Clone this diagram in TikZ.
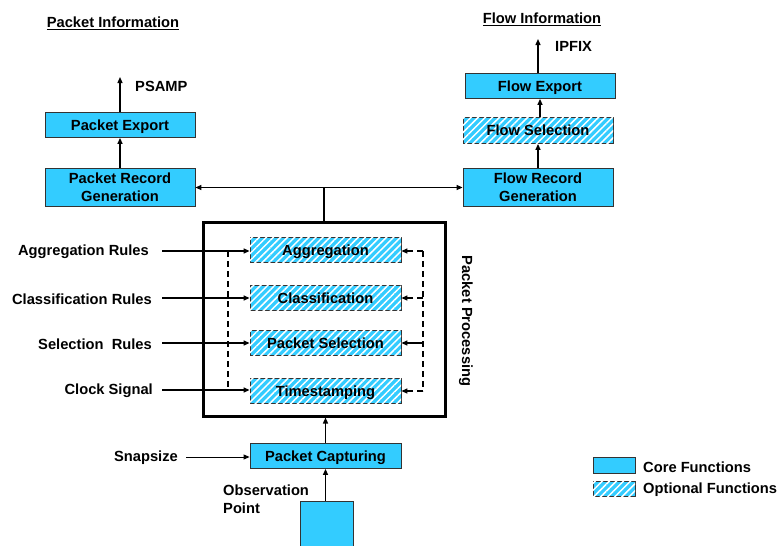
\documentclass[tikz,border=0pt]{standalone}
\usepackage{fontspec}
\setmainfont{Liberation Sans}
\usetikzlibrary{arrows.meta,patterns.meta}
\definecolor{corecyan}{HTML}{33CCFF}

\begin{document}
\begin{tikzpicture}[
    x=1pt, y=-1pt,
    every node/.style={font=\bfseries\fontsize{14.7}{18}\selectfont, inner sep=0pt},
	core/.style={
	  rectangle,
	  draw=black!80,
	  line width=0.8pt,
	  fill=corecyan,
	  minimum width=150pt,
	  minimum height=25pt,
	  text depth=0pt,
	  align=center
	},
	optional/.style={
	  core,
	  postaction={pattern={Lines[angle=45,distance=5pt,line width=1.5pt]}, pattern color=white}
	},
	label/.style={anchor=east},
 	line/.style={draw, line width=1.3pt, -{Triangle[length=6pt,width=5pt]}},
 	dline/.style={line, dashed, dash pattern=on 6pt off 4pt}
	]
	\useasboundingbox (0,0) rectangle (780,546);
	% headings
	\node at (113,23) (pinfo) {\underline{Packet Information}};
	\node at (542,19) (finfo) {\underline{Flow Information}};
	% packet side
	\node [core] at (120,125) (pexp) {Packet Export};
	\node [core, minimum height=38pt] at (120,187.5) (prg) {Packet Record\\Generation};
	\node [anchor=west] at (135,86) (psamp) {PSAMP};
	\coordinate (psampend) at (120,77);
	% flow side
	\node [core, minimum height=38pt] at (538,187.5) (frg) {Flow Record\\Generation};
	\node [optional, minimum height=26pt] at (538,130.5) (fsel) {Flow Selection};
	\node [core] at (540,86) (fexp) {Flow Export};
	\node [anchor=west] at (555,46) (ipfix) {IPFIX};
	\coordinate (ipfixend) at (538,39);
	% packet processing
	\node [draw, line width=3pt, minimum width=242pt, minimum height=194pt] at (324,319) (proc) {};
	\node [rotate=-90] at (466,321) (proclabel) {Packet Processing};
	\node [optional, minimum width=151pt] at (325.5,250) (agg) {Aggregation};
	\node [optional, minimum width=151pt] at (325.5,298) (cls) {Classification};
	\node [optional, minimum width=151pt] at (325.5,343) (psel) {Packet Selection};
	\node [optional, minimum width=151pt] at (325.5,391) (ts) {Timestamping};
	\node [label] at (149,252) (aggrules) {Aggregation Rules};
	\node [label] at (152,299) (clsrules) {Classification Rules};
	\node [label] at (152,344) (selrules) {Selection\ \ Rules};
	\node [label] at (153,391) (clock) {Clock Signal};
	\coordinate (ldtop) at (228,251);
	\coordinate (ldbot) at (228,390);
	\coordinate (rdtop) at (423,251);
	\coordinate (rdbot) at (423,391);
	% capturing
	\node [core, minimum width=151pt] at (325.5,456) (cap) {Packet Capturing};
	\node [label] at (178,458) (snap) {Snapsize};
	\node [rectangle, draw=black!80, line width=0.8pt, fill=corecyan, minimum width=53pt, minimum height=52pt] at (326.5,527) (obs) {};
	\node [anchor=north west, align=left] at (223,485) (obslabel) {Observation\\Point};
	% legend
	\node [core, minimum width=42pt, minimum height=16pt] at (614,465) (lcore) {};
	\node [optional, minimum width=42pt, minimum height=15pt] at (614,488.5) (lopt) {};
	\node [anchor=west] at (643,467) (lcoretext) {Core Functions};
	\node [anchor=west] at (643,490) (lopttext) {Optional Functions};
	% connectors
	\path[line] (prg) -- (pexp);
	\path[line] (pexp.north) -- (psampend);
	\path[line] (frg) -- (fsel);
	\path[line] (fsel.north -| fexp.south) -- (fexp.south);
	\path[line] (fexp.north -| ipfixend) -- (ipfixend);
	\path[line, {Triangle[length=6pt,width=5pt]}-{Triangle[length=6pt,width=5pt]}] (prg.east) -- (frg.west);
	\draw[line width=1.3pt] (proc.north) -- (proc.north |- prg.east);
	\path[line] (cap.north) -- (proc.south -| cap.north);
	\path[line] (obs.north -| cap.south) -- (cap.south);
	\path[line, line width=1pt] (snap.east) ++(8,-1) -- (cap.west |- 0,457);
	\path[line] (162,251) -- (agg.west |- ldtop);
	\path[line] (162,298) -- (cls.west);
	\path[line] (162,343) -- (psel.west);
	\path[line] (162,390) -- (ts.west |- ldbot);
	\draw[line width=1.3pt, dashed, dash pattern=on 6pt off 4pt] (ldtop) -- (ldbot);
	\draw[line width=1.3pt, dashed, dash pattern=on 6pt off 4pt] (rdtop) -- (rdbot);
	\path[dline] (rdtop) -- (agg.east |- rdtop);
	\path[dline] (rdtop |- cls.east) -- (cls.east);
	\path[line] (rdtop |- psel.east) -- (psel.east);
	\path[dline] (rdbot) -- (ts.east |- rdbot);
  \end{tikzpicture}
\end{document}
